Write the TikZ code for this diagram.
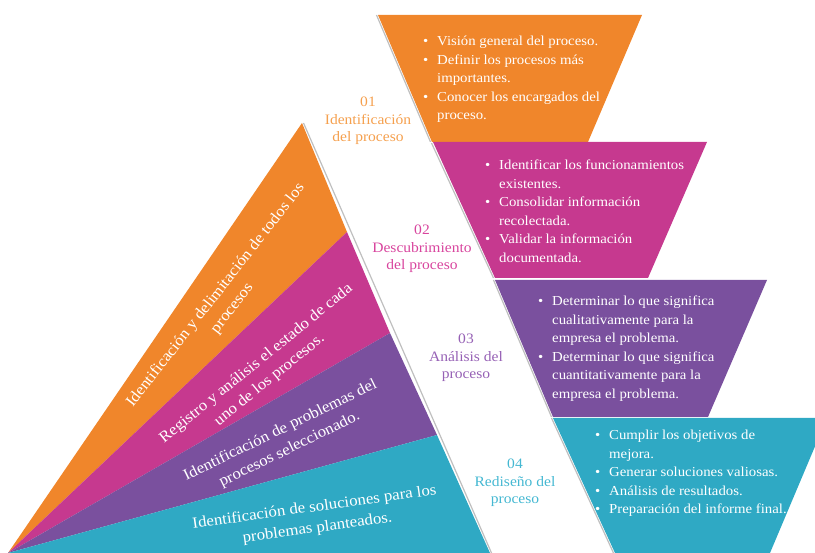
\documentclass[tikz,border=0pt]{standalone}
\usepackage{fontspec}
\setmainfont{Liberation Serif}[FakeStretch=1.08]
\usepackage{xcolor}
\usetikzlibrary{positioning}

\definecolor{naranja}{HTML}{F0862B}
\definecolor{magenta}{HTML}{C6398F}
\definecolor{morado}{HTML}{7A509E}
\definecolor{turquesa}{HTML}{2FA9C4}
\definecolor{naranjatxt}{HTML}{F5A04E}
\definecolor{magentatxt}{HTML}{D8459E}
\definecolor{moradotxt}{HTML}{9661B5}
\definecolor{turquesatxt}{HTML}{45B8D2}

\newcommand{\bul}{\makebox[14pt][l]{\textbullet}}
\newcommand{\ind}{\hspace*{14pt}}

\begin{document}
\begin{tikzpicture}[
  x=1pt, y=-1pt,
  sombra/.style={draw=black!25, line width=1.2pt},
  lista/.style={anchor=north west, inner sep=0pt, align=left, text=white, font=\fontsize{13.7}{18.5}\selectfont},
  etiqueta/.style={align=center, inner sep=0pt, font=\fontsize{14.4}{17.5}\selectfont},
  banda/.style={align=center, inner sep=0pt, text=white, font=\fontsize{15.6}{21}\selectfont}
]
\useasboundingbox (0,0) rectangle (815,553);
\clip (0,0) rectangle (815,553);

% triangulo
\coordinate (apex) at (8,553);
\coordinate (cima) at (302,123);
\coordinate (base) at (490,553);
\coordinate (d1) at (347,232);
\coordinate (d2) at (390,333);
\coordinate (d3) at (437,435);
\draw[sombra] ([xshift=1.5pt]cima) -- ([xshift=1.5pt]base);
\fill[naranja] (apex) -- (cima) -- (d1) -- cycle;
\fill[magenta] (apex) -- (d1) -- (d2) -- cycle;
\fill[morado] (apex) -- (d2) -- (d3) -- cycle;
\fill[turquesa] (apex) -- (d3) -- (base) -- cycle;

% embudos
\draw[sombra] (376.5,15) -- (430.5,142);
\draw[sombra] (431.5,143) -- (493.5,278);
\draw[sombra] (493.5,280) -- (551.5,417);
\draw[sombra] (551.5,418) -- (613.5,553);
\fill[naranja] (378,15) -- (642,15) -- (588,142) -- (432,142) -- cycle;
\fill[magenta] (433,142) -- (707,142) -- (648,278) -- (495,278) -- cycle;
\fill[morado] (495,280) -- (767,280) -- (708,417) -- (553,417) -- cycle;
\fill[turquesa] (553,418) -- (827,418) -- (770,553) -- (615,553) -- cycle;

\node[lista] (l1) at (423,36) {\bul Visión general del proceso.\\
  \bul Definir los procesos más\\ \ind importantes.\\
  \bul Conocer los encargados del\\ \ind proceso.};
\node[lista] (l2) at (485,160) {\bul Identificar los funcionamientos\\ \ind existentes.\\
  \bul Consolidar información\\ \ind recolectada.\\
  \bul Validar la información\\ \ind documentada.};
\node[lista] (l3) at (538,296) {\bul Determinar lo que significa\\ \ind cualitativamente para la\\ \ind empresa el problema.\\
  \bul Determinar lo que significa\\ \ind cuantitativamente para la\\ \ind empresa el problema.};
\node[lista] (l4) at (595,430) {\bul Cumplir los objetivos de\\ \ind mejora.\\
  \bul Generar soluciones valiosas.\\
  \bul Análisis de resultados.\\
  \bul Preparación del informe final.};

\node[etiqueta, text=naranjatxt] (e1) at (368,121) {01\\Identificación\\del proceso};
\node[etiqueta, text=magentatxt] (e2) at (422,249) {02\\Descubrimiento\\del proceso};
\node[etiqueta, text=moradotxt] (e3) at (466,358) {03\\Análisis del\\proceso};
\node[etiqueta, text=turquesatxt] (e4) at (515,483) {04\\Rediseño del\\proceso};

\node[banda, rotate=52] (b1) at (224,302) {Identificación y delimitación de todos los\\procesos};
\node[banda, rotate=39] (b2) at (263,372) {Registro y análisis el estado de cada\\uno de los procesos.};
\node[banda, rotate=26] (b3) at (285,440) {Identificación de problemas del\\procesos seleccionado.};
\node[banda, rotate=8] (b4) at (316,518) {Identificación de soluciones para los\\problemas planteados.};
\end{tikzpicture}
\end{document}
